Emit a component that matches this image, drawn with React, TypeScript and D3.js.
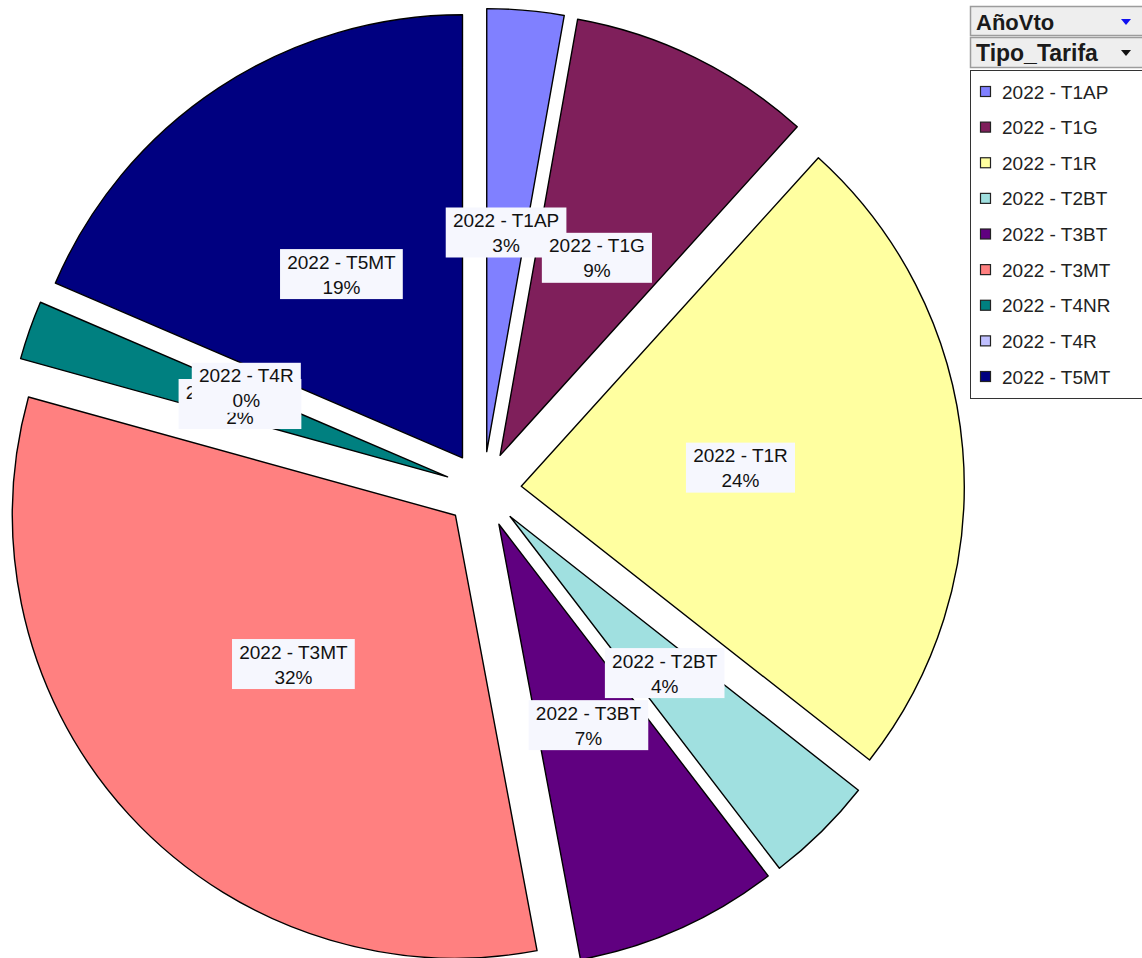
import React from "react";
import { pie, arc, scaleOrdinal, scaleLinear } from "d3";

const categories = ["2022 - T1AP", "2022 - T1G", "2022 - T1R", "2022 - T2BT", "2022 - T3BT", "2022 - T3MT", "2022 - T4NR", "2022 - T4R", "2022 - T5MT"];
const values = [2.8, 8.9, 23.9, 4.0, 7.45, 32.25, 2.15, 0, 18.55];
const colors = ["#8080FF", "#7F1F5B", "#FFFFA0", "#A0E0E0", "#600080", "#FF8080", "#008080", "#C0C0FF", "#000080"];

const width = 1142;
const height = 958;
const cx = 483.4;
const cy = 489.5;
const radius = 443;
const explode = 38;
const labelDist = 220;
const font = "'Liberation Sans', Arial, sans-serif";

let ctx: CanvasRenderingContext2D | null = null;
function textWidth(t: string, size: number) {
    if (!ctx) ctx = document.createElement("canvas").getContext("2d");
    if (!ctx) return t.length * size * 0.55;
    ctx.font = `${size}px ${font}`;
    return ctx.measureText(t).width;
}

const App = () => {
    const total = values.reduce((a, b) => a + b, 0);
    const slices = pie<number>().sort(null).value(d => d)(values);
    const sliceArc = arc<any>().innerRadius(0).outerRadius(radius);
    const labelArc = arc<any>().innerRadius(labelDist).outerRadius(labelDist);
    const color = scaleOrdinal<string, string>().domain(categories).range(colors);

    // legend rows
    const legendY = scaleLinear().domain([0, categories.length - 1]).range([92, 377]);

    const offset = (s: any) => {
        const a = (s.startAngle + s.endAngle) / 2;
        return [explode * Math.sin(a), -explode * Math.cos(a)];
    };

    return (
        <svg width={width} height={height} style={{ position: "absolute", left: 0, top: 0, background: "#fff" }}>
            <g transform={`translate(${cx}, ${cy})`}>
                {slices.map((s, i) => {
                    if (s.value === 0) return null;
                    const [dx, dy] = offset(s);
                    return (
                        <path key={i} d={sliceArc(s) || ""} transform={`translate(${dx}, ${dy})`}
                            fill={color(categories[i])} stroke="#000" strokeWidth={1.4} strokeLinejoin="round" />
                    );
                })}
                {slices.map((s, i) => {
                    const [dx, dy] = offset(s);
                    const [lx, ly] = labelArc.centroid(s);
                    const x = lx + dx;
                    const y = ly + dy;
                    const pct = Math.round((s.value / total) * 100) + "%";
                    const w = textWidth(categories[i], 19) + 14;
                    return (
                        <g key={"l" + i} transform={`translate(${x}, ${y})`}>
                            <rect x={-w / 2} y={-25} width={w} height={50} fill="#F6F7FE" />
                            <text y={-12} textAnchor="middle" dominantBaseline="central" fontFamily={font} fontSize={19} fill="#111">{categories[i]}</text>
                            <text y={13} textAnchor="middle" dominantBaseline="central" fontFamily={font} fontSize={19} fill="#111">{pct}</text>
                        </g>
                    );
                })}
            </g>

            {/* field buttons */}
            <rect x={970.5} y={6.5} width={180} height={29} fill="#EEEEEE" stroke="#9C9C9C" strokeWidth={1.5} />
            <text x={976} y={22} dominantBaseline="central" fontFamily={font} fontWeight="bold" fontSize={22} fill="#1a1a1a">AñoVto</text>
            <path d="M1121,19 L1131,19 L1126,25 Z" fill="#1010F0" />
            <rect x={970.5} y={37.5} width={180} height={30} fill="#EEEEEE" stroke="#9C9C9C" strokeWidth={1.5} />
            <text x={976} y={53} dominantBaseline="central" fontFamily={font} fontWeight="bold" fontSize={23} fill="#1a1a1a">Tipo_Tarifa</text>
            <path d="M1121,50 L1131,50 L1126,56 Z" fill="#111" />

            {/* legend */}
            <rect x={970.5} y={70.5} width={180} height={328} fill="#fff" stroke="#333" strokeWidth={1} />
            {categories.map((c, i) => (
                <g key={"g" + i} transform={`translate(980, ${legendY(i)})`}>
                    <rect x={0.5} y={-5.5} width={10} height={10} fill={color(c)} stroke="#222" strokeWidth={1.2} />
                    <text x={22} y={0} dominantBaseline="central" fontFamily={font} fontSize={19} fill="#222">{c}</text>
                </g>
            ))}
        </svg>
    );
};

export default App;
